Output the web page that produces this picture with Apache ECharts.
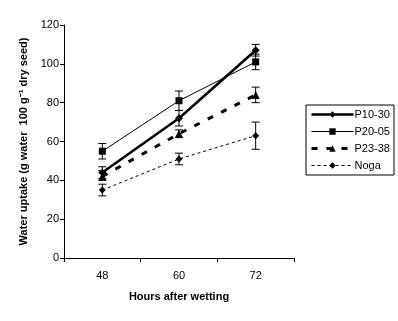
<!DOCTYPE html>
<html>
<head>
<meta charset="utf-8">
<script src="https://cdn.jsdelivr.net/npm/echarts@6/dist/echarts.min.js"></script>
<style>html,body{margin:0;padding:0;background:#fff}#c{width:398px;height:321px}</style>
</head>
<body>
<div id="c"></div>
<script>
var categories = ['48', '60', '72'];
var yTicks = [0, 20, 40, 60, 80, 100, 120];
var seriesNames = ['P10-30', 'P20-05', 'P23-38', 'Noga'];
var p1030 = [44, 72, 107];
var p2005 = [55, 81, 101];
var p2338 = [42, 64, 84];
var noga = [35, 51, 63];
var p1030Err = [[41, 47], [68, 76], [104, 110]];
var p2005Err = [[51, 59], [76, 86], [97, 105]];
var p2338Err = [[40, 45], [62, 66], [80, 88]];
var nogaErr = [[32, 38], [48, 54], [56, 70]];

var FONT = 'Liberation Sans, Arial, sans-serif';
var chart = echarts.init(document.getElementById('c'), null, {renderer: 'canvas'});

function errSeries(errs) {
  return {
    type: 'custom',
    silent: true,
    z: 1,
    data: errs.map(function (e, i) { return [i, e[0], e[1]]; }),
    renderItem: function (params, api) {
      var lo = api.coord([api.value(0), api.value(1)]);
      var hi = api.coord([api.value(0), api.value(2)]);
      var w = 4;
      var st = {stroke: '#000', lineWidth: 1};
      return {type: 'group', children: [
        {type: 'line', shape: {x1: lo[0], y1: lo[1], x2: hi[0], y2: hi[1]}, style: st},
        {type: 'line', shape: {x1: lo[0] - w, y1: lo[1], x2: lo[0] + w, y2: lo[1]}, style: st},
        {type: 'line', shape: {x1: hi[0] - w, y1: hi[1], x2: hi[0] + w, y2: hi[1]}, style: st}
      ]};
    }
  };
}

var styles = {
  'P10-30': {symbol: 'diamond', size: 8, width: 2.5, type: 'solid'},
  'P20-05': {symbol: 'rect', size: 7, width: 1, type: 'solid'},
  'P23-38': {symbol: 'triangle', size: 8, width: 3, type: [6, 9]},
  'Noga': {symbol: 'diamond', size: 7, width: 1, type: [3, 3]}
};

function lineSeries(name, data) {
  var s = styles[name];
  return {
    name: name, type: 'line', data: data, symbol: s.symbol, symbolSize: s.size,
    z: 3,
    itemStyle: {color: '#000', borderColor: '#000', borderWidth: 0},
    lineStyle: {color: '#000', width: s.width, type: s.type},
    emphasis: {disabled: true},
    animation: false
  };
}

chart.setOption({
  animation: false,
  backgroundColor: '#fff',
  grid: {left: 64, right: 104, top: 25, bottom: 63, containLabel: false},
  legend: {
    data: seriesNames.map(function (n) {
      var s = styles[n];
      return {name: n, lineStyle: {width: s.width, type: s.type, color: '#000'}};
    }),
    orient: 'vertical',
    left: 306, top: 105,
    itemWidth: 42, itemHeight: 8, itemGap: 6,
    padding: [4, 4, 4, 4],
    borderColor: '#000', borderWidth: 1,
    textStyle: {fontFamily: FONT, fontSize: 11, color: '#000', padding: [0, 0, 0, -4]},
    selectedMode: false
  },
  xAxis: {
    type: 'category', data: categories, boundaryGap: true,
    name: 'Hours after wetting', nameLocation: 'middle', nameGap: 33,
    nameTextStyle: {fontFamily: FONT, fontSize: 11, fontWeight: 'bold', color: '#000'},
    axisLine: {lineStyle: {color: '#000', width: 1}},
    axisTick: {show: true, alignWithLabel: false, length: 4, inside: false, lineStyle: {color: '#000'}},
    axisLabel: {fontFamily: FONT, fontSize: 11, color: '#000', margin: 12},
    splitLine: {show: false}
  },
  yAxis: {
    type: 'value', min: yTicks[0], max: yTicks[yTicks.length - 1], interval: 20,
    name: 'Water uptake (g water  100 g\u207B\u00B9 dry seed)', nameLocation: 'middle', nameGap: 28,
    nameTextStyle: {fontFamily: FONT, fontSize: 11, fontWeight: 'bold', color: '#000'},
    axisLine: {show: true, lineStyle: {color: '#000', width: 1}},
    axisTick: {show: true, length: 4, lineStyle: {color: '#000'}},
    axisLabel: {fontFamily: FONT, fontSize: 11, color: '#000', margin: 5},
    splitLine: {show: false}
  },
  series: [
    lineSeries('P10-30', p1030),
    lineSeries('P20-05', p2005),
    lineSeries('P23-38', p2338),
    lineSeries('Noga', noga),
    errSeries(p1030Err),
    errSeries(p2005Err),
    errSeries(p2338Err),
    errSeries(nogaErr)
  ]
});
</script>
</body>
</html>
